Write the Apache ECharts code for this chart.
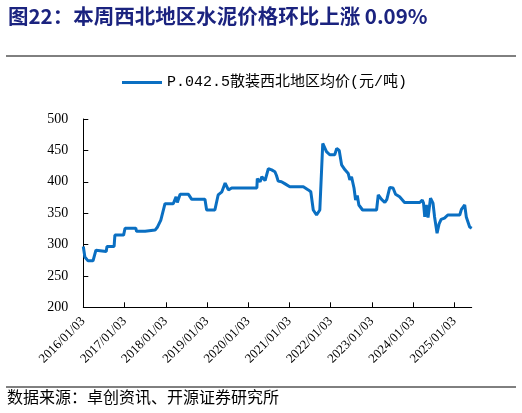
<!DOCTYPE html>
<html>
<head>
<meta charset="utf-8">
<script src="https://cdn.jsdelivr.net/npm/echarts@6/dist/echarts.min.js"></script>
<style>
html,body{margin:0;padding:0;background:#fff;}
#chart{width:522px;height:413px;}
</style>
</head>
<body>
<div id="chart"></div>
<script>
const titleText = '图22：本周西北地区水泥价格环比上涨 0.09%';
const sourceText = '数据来源：卓创资讯、开源证券研究所';
const seriesName = 'P.042.5散装西北地区均价(元/吨)';
const tickYears = [2016, 2017, 2018, 2019, 2020, 2021, 2022, 2023, 2024, 2025];
const dates = [
'2016-01-03','2016-01-17','2016-02-14','2016-03-29','2016-04-24','2016-05-01','2016-07-24','2016-07-31',
'2016-10-02','2016-10-09','2016-12-25','2017-01-07','2017-04-12','2017-04-19','2017-07-04','2017-07-19',
'2017-09-30','2017-10-22','2017-11-20','2017-12-27','2018-03-10','2018-04-04','2018-04-15','2018-05-10',
'2018-07-23','2018-08-21','2018-12-16','2018-12-31','2019-03-14','2019-04-12','2019-05-15','2019-06-13',
'2019-07-12','2019-08-10','2020-03-20','2020-03-24','2020-04-18','2020-05-03','2020-06-01','2020-06-30',
'2020-07-29','2020-08-27','2020-09-10','2020-09-25','2020-10-24','2020-11-22','2021-01-06','2021-05-06',
'2021-05-20','2021-06-19','2021-07-11','2021-08-02','2021-08-31','2021-09-29','2021-10-25','2021-11-05',
'2021-11-27','2021-12-26','2022-02-08','2022-02-26','2022-03-20','2022-04-10','2022-05-10','2022-06-08',
'2022-06-22','2022-07-07','2022-07-29','2022-08-12','2022-08-27','2022-09-10','2022-10-13','2023-02-14',
'2023-03-01','2023-03-30','2023-04-28','2023-05-16','2023-06-11','2023-07-10','2023-08-01','2023-09-06',
'2023-09-20','2023-10-20','2024-03-03','2024-03-25','2024-04-05','2024-04-16','2024-04-30','2024-05-15',
'2024-06-06','2024-06-28','2024-07-12','2024-08-03','2024-08-21','2024-09-01','2024-09-08','2024-10-08',
'2024-11-06','2025-02-20','2025-03-07','2025-04-05','2025-04-19','2025-05-19','2025-06-06'
];
const values = [
297,280,274,274,291,289,289,297,
297,315,315,326,326,321,321,323,
323,328,339,365,365,376,367,380,
380,372,372,355,355,379,384,398,
387,390,390,405,400,408,402,421,
419,416,410,401,400,397,392,392,
389,387,384,355,347,355,461,464,
448,443,443,453,450,427,419,413,
403,408,390,371,378,363,355,355,
379,372,367,372,391,390,380,376,
375,367,367,371,366,344,363,343,
374,366,344,318,333,330,340,342,
347,347,356,363,344,328,326
];
const yMin = 200, yMax = 500, yStep = 50;

function ts(s){ const p = s.split('-').map(Number); return Date.UTC(p[0], p[1]-1, p[2]); }
function pad(n){ return (n<10?'0':'')+n; }
const tickVals = tickYears.map(y => Date.UTC(y, 0, 3));
const lineData = dates.map((d,i) => [ts(d), values[i]]);

const serif = '"Liberation Serif", "DejaVu Serif", serif';
const chart = echarts.init(document.getElementById('chart'));
chart.setOption({
  animation: false,
  backgroundColor: '#fff',
  title: {
    text: titleText, left: 3, top: 1,
    textStyle: { fontFamily: '"Noto Sans CJK SC"', fontSize: 20.5, fontWeight: 'bold', color: '#1b237f' }
  },
  legend: {
    data: [seriesName], top: 70, left: 117,
    itemWidth: 40, itemHeight: 3, itemGap: 4,
    icon: 'rect',
    textStyle: { fontFamily: '"Liberation Mono", "Noto Sans CJK SC"', fontSize: 15, color: '#000' }
  },
  grid: { left: 83.3, right: 50.3, top: 119, bottom: 105.7, containLabel: false },
  xAxis: {
    type: 'value',
    min: ts(dates[0]), max: ts(dates[dates.length-1]),
    axisLine: { lineStyle: { color: '#000', width: 1 } },
    axisTick: { show: true, inside: true, length: 5, customValues: tickVals, lineStyle: { color: '#000' } },
    splitLine: { show: false },
    axisLabel: {
      customValues: tickVals, rotate: 45, margin: 12,
      fontFamily: serif, fontSize: 13, color: '#000',
      formatter: v => { const d = new Date(v); return d.getUTCFullYear()+'/'+pad(d.getUTCMonth()+1)+'/'+pad(d.getUTCDate()); }
    }
  },
  yAxis: {
    type: 'value', min: yMin, max: yMax, interval: yStep,
    axisLine: { show: true, lineStyle: { color: '#000', width: 1 } },
    axisTick: { show: true, inside: true, length: 5, lineStyle: { color: '#000' } },
    splitLine: { show: false },
    axisLabel: { margin: 15, fontFamily: serif, fontSize: 14, color: '#000' }
  },
  series: [{
    name: seriesName, type: 'line', data: lineData,
    showSymbol: false, symbol: 'none',
    lineStyle: { color: '#0a6fc2', width: 3 },
    itemStyle: { color: '#0a6fc2' }
  }],
  graphic: [
    { type: 'line', shape: { x1: 6, y1: 56, x2: 516, y2: 56 }, style: { stroke: '#000', lineWidth: 1 } },
    { type: 'line', shape: { x1: 6, y1: 387, x2: 516, y2: 387 }, style: { stroke: '#000', lineWidth: 1 } },
    { type: 'text', left: 7, top: 389, style: { text: sourceText, font: '16px "Noto Sans CJK SC"', fill: '#000' } }
  ]
});
</script>
</body>
</html>
